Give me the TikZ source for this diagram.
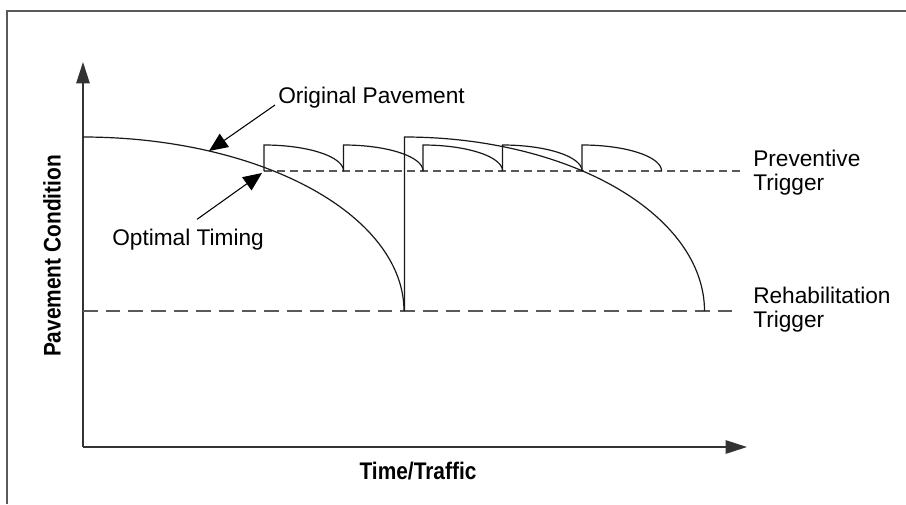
\documentclass[tikz,border=0pt]{standalone}
\usepackage{fontspec}
\setmainfont{Liberation Sans}
\newfontfamily\axisfont[FakeStretch=0.87]{Liberation Sans}
\usetikzlibrary{arrows.meta}
\begin{document}
\begin{tikzpicture}[
	x=0.75pt, y=-0.75pt,
	declare function={wearx(\u,\p,\q) = \p + \q*sin(\u);
					  weary(\u,\p,\q) = \p + \q*(1-cos(\u));
	},
	curve/.style={line width=0.9pt, color=black!90},
	trigger/.style={line width=0.9pt, color=black!65},
	axis/.style={line width=1.3pt, color=black!80, -{Triangle[length=16pt,width=10pt]}},
	callout/.style={line width=0.8pt, -{Triangle[length=14pt,width=12pt]}},
	lab/.style={font=\fontsize{17}{17.5}\selectfont, inner sep=0pt, align=left},
	axislab/.style={font=\axisfont\bfseries\fontsize{18}{20}\selectfont, inner sep=0pt},
	]
	\useasboundingbox (0,0) rectangle (906,504);
	%frame
	\draw[line width=1.5pt, color=black!65] (7,504) -- (7,11) -- (906,11);

	%axis
	\coordinate (origin) at (83,447);
	\coordinate (ytop) at (83,62);
	\coordinate (xend) at (747,447);
	\draw[axis] (origin) -- (ytop);
	\draw[axis] (origin) -- (xend);
	\node[axislab, rotate=90] (ylab) at (52,256) {Pavement Condition};
	\node[axislab] (xlab) at (418,471) {Time/Traffic};

	%triggers
	\draw[trigger, dash pattern=on 6pt off 3.75pt] (264,171) -- (740,171);
	\draw[trigger, dash pattern=on 11pt off 6pt] (83,311) -- (740,311);

	%curves
	\draw[curve, variable=\t, domain=0:90, samples=200] plot ({wearx(\t,83,321)}, {weary(\t,137,174)});
	\draw[curve, variable=\t, domain=0:90, samples=200] (404.5,311) -- plot ({wearx(\t,404.5,300)}, {weary(\t,137,174)});
	\foreach \s in {264,343.5,423,502.5,582}
		\draw[curve, variable=\t, domain=0:90, samples=60] (\s,171) -- plot ({wearx(\t,\s,79.5)}, {weary(\t,145,26)});

	%labels
	\node[lab, anchor=base west] (origlab) at (278,103) {Original Pavement};
	\node[lab, anchor=base west] (optlab) at (112,245) {Optimal Timing};
	\node[lab, anchor=north west] (prevlab) at (753,150) {Preventive\\Trigger};
	\node[lab, anchor=north west] (rehablab) at (753,287) {Rehabilitation\\Trigger};

	%arrows
	\coordinate (origtip) at (209,151);
	\coordinate (opttip) at (262,173);
	\draw[callout] ([shift={(-3,2)}]origlab.base west) -- (origtip);
	\draw[callout] ([shift={(9,-9)}]optlab.north) -- (opttip);
\end{tikzpicture}
\end{document}
